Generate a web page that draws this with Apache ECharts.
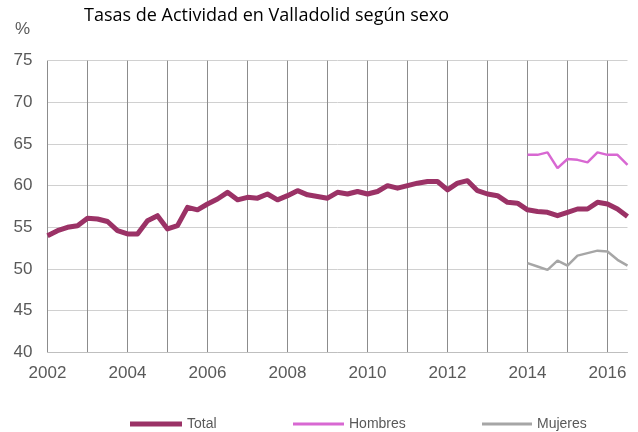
<!DOCTYPE html>
<html>
<head>
<meta charset="utf-8">
<script src="https://cdn.jsdelivr.net/npm/echarts@6/dist/echarts.min.js"></script>
<style>
  html, body { margin: 0; padding: 0; background: #fff; }
  #main { width: 638px; height: 432px; }
</style>
</head>
<body>
<div id="main"></div>
<script>
// quarters 2002 T1 .. 2016 T3
var quarters = [];
for (var y = 2002; y <= 2016; y++) {
	for (var q = 1; q <= 4; q++) {
		if (y === 2016 && q > 3) break;
		quarters.push(y + 'T' + q);
	}
}

var totalData = [
	54.0, 54.6, 55.0, 55.2, 56.1, 56.0, 55.7, 54.6, 54.2, 54.2,
	55.8, 56.4, 54.8, 55.2, 57.4, 57.1, 57.8, 58.4, 59.2, 58.3,
	58.6, 58.5, 59.0, 58.3, 58.8, 59.4, 58.9, 58.7, 58.5, 59.2,
	59.0, 59.3, 59.0, 59.3, 60.0, 59.7, 60.0, 60.3, 60.5, 60.5,
	59.5, 60.3, 60.6, 59.4, 59.0, 58.8, 58.0, 57.9, 57.1, 56.9,
	56.8, 56.4, 56.8, 57.2, 57.2, 58.0, 57.8, 57.2, 56.3
];
// from 2014 T1
var hombresData = [63.7, 63.7, 64.0, 62.1, 63.2, 63.1, 62.8, 64.0, 63.7, 63.7, 62.5];
var mujeresData = [50.7, 50.3, 49.9, 51.0, 50.4, 51.6, 51.9, 52.2, 52.1, 51.1, 50.4];

var startSexo = quarters.indexOf('2014T1');
function pad(arr) {
	var out = [];
	for (var i = 0; i < quarters.length; i++) {
		out.push(i >= startSexo ? arr[i - startSexo] : null);
	}
	return out;
}

var myChart = echarts.init(document.getElementById('main'));

var legendText = { color: '#595959', fontSize: 14, fontFamily: 'Liberation Sans' };

option = {
	animation: false,
	graphic: [{
		type: 'text',
		left: 84,
		top: 7,
		style: { text: 'Tasas de Actividad en Valladolid según sexo', fill: '#000', fontSize: 18, fontFamily: 'Open Sans' }
	}, {
		type: 'text',
		left: 15,
		top: 21,
		style: { text: '%', fill: '#595959', fontSize: 17, fontFamily: 'Liberation Sans' }
	}],
	legend: [{
		left: 130, top: 417, padding: 0,
		itemWidth: 52, itemHeight: 5, itemGap: 0,
		icon: 'rect',
		textStyle: legendText,
		data: ['Total']
	}, {
		left: 293, top: 417, padding: 0,
		itemWidth: 51, itemHeight: 3, itemGap: 0,
		icon: 'rect',
		textStyle: legendText,
		data: ['Hombres']
	}, {
		left: 482, top: 417, padding: 0,
		itemWidth: 50, itemHeight: 3, itemGap: 0,
		icon: 'rect',
		textStyle: legendText,
		data: ['Mujeres']
	}],
	grid: { left: 47.5, right: 10.5, top: 60.7, bottom: 79.7 },
	xAxis: {
		type: 'category',
		boundaryGap: false,
		data: quarters,
		axisLine: { lineStyle: { color: '#bfbfbf', width: 1 } },
		axisTick: { show: false },
		axisLabel: {
			interval: 7,
			margin: 13,
			color: '#595959',
			fontSize: 17,
			fontFamily: 'Liberation Sans',
			formatter: function(v) { return v.slice(0, 4); }
		},
		splitLine: { show: true, interval: 3, lineStyle: { color: '#8c8c8c', width: 1 } }
	},
	yAxis: {
		type: 'value',
		min: 40, max: 75, interval: 5,
		axisLine: { show: false },
		axisTick: { show: false },
		axisLabel: { color: '#595959', fontSize: 17, fontFamily: 'Liberation Sans', margin: 15 },
		splitLine: { lineStyle: { color: '#d0d0d0', width: 1 } }
	},
	series: [{
		name: 'Total',
		type: 'line',
		symbol: 'none',
		z: 3,
		itemStyle: { color: '#9b3266' },
		lineStyle: { color: '#9b3266', width: 5, join: 'round' },
		data: totalData
	}, {
		name: 'Hombres',
		type: 'line',
		symbol: 'none',
		itemStyle: { color: '#d868d2' },
		lineStyle: { color: '#d868d2', width: 2.5 },
		data: pad(hombresData)
	}, {
		name: 'Mujeres',
		type: 'line',
		symbol: 'none',
		itemStyle: { color: '#a6a6a6' },
		lineStyle: { color: '#a6a6a6', width: 2.5 },
		data: pad(mujeresData)
	}]
};
myChart.setOption(option);
</script>
</body>
</html>
